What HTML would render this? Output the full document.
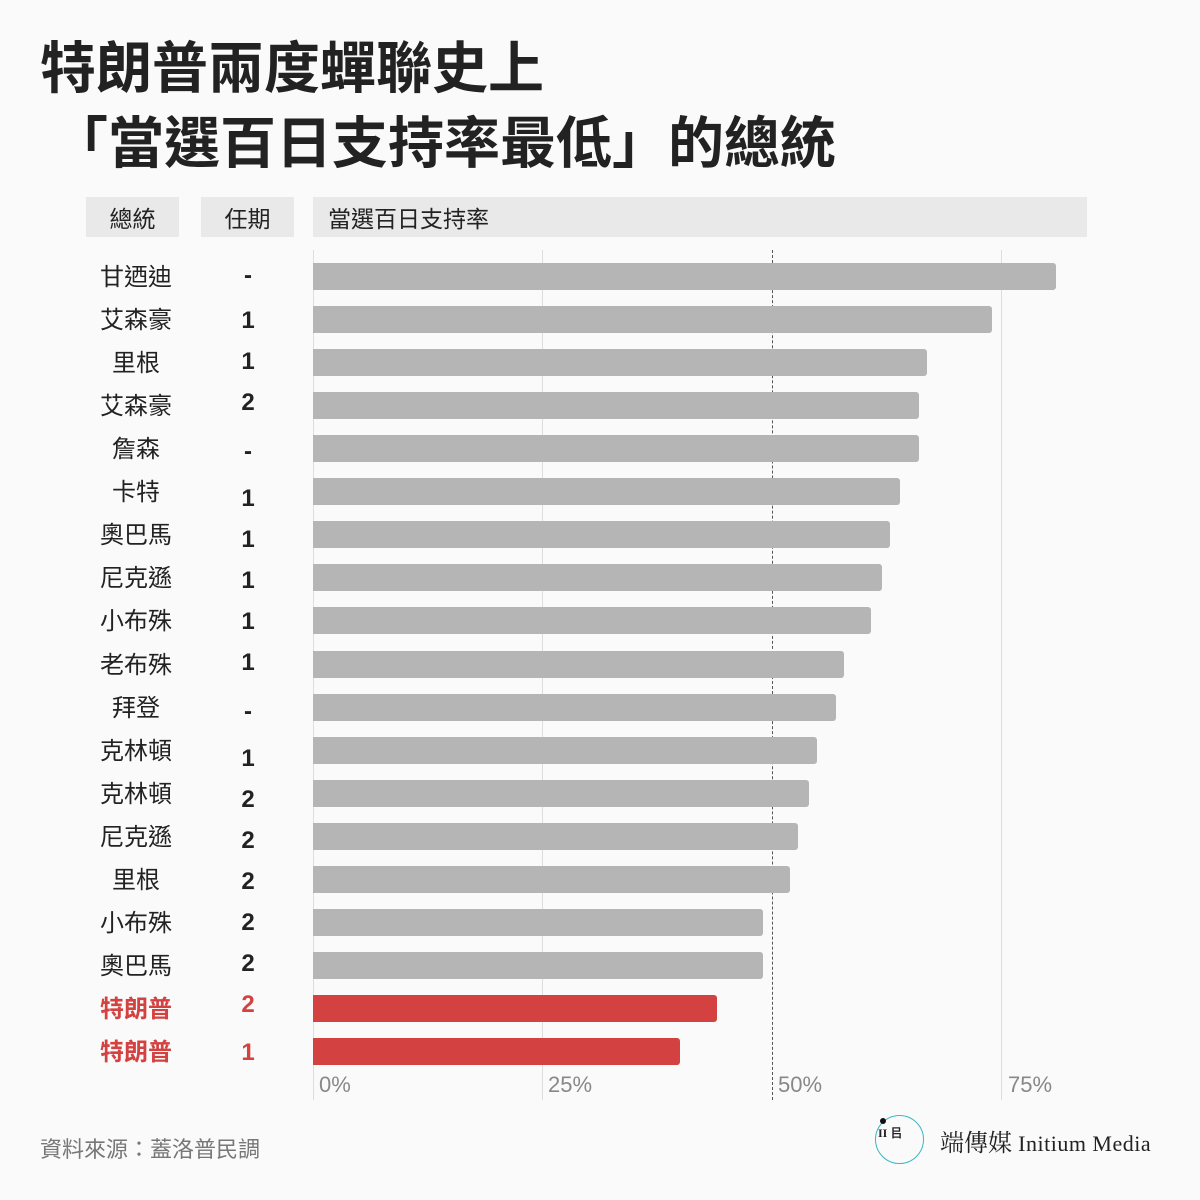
<!DOCTYPE html>
<html><head><meta charset="utf-8"><style>
body{margin:0;width:1200px;height:1200px;background:#fafafa;position:relative;overflow:hidden;font-family:"Liberation Sans","Noto Sans CJK TC",sans-serif;color:#222}
.a{position:absolute}
.t{left:40px;font-size:56px;font-weight:bold;color:#222;line-height:1;font-family:"Noto Sans CJK TC",sans-serif}
.h{top:197px;height:40px;background:#e9e9e9;font-size:23px;line-height:40px;font-family:"Noto Sans CJK TC",sans-serif}
.n{width:120px;left:76px;text-align:center;font-size:24px;font-family:"Noto Sans CJK TC",sans-serif;line-height:30px}
.p{width:40px;left:228px;text-align:center;font-size:24px;font-weight:bold;line-height:30px}
.b{left:313px;height:27px;background:#b5b5b5;border-radius:0 3px 3px 0}
.r{color:#d44141}
.rb{background:#d44141}
.g{top:250px;height:850px;width:0;border-left:1px solid #ddd}
.x{top:1072px;font-size:22px;color:#888}
</style></head><body>
<div class="a t" style="top:37px">特朗普兩度蟬聯史上</div>
<div class="a t" style="top:112px;left:52px">「當選百日支持率最低」的總統</div>
<div class="a h" style="left:86px;width:93px;text-align:center">總統</div>
<div class="a h" style="left:201px;width:93px;text-align:center">任期</div>
<div class="a h" style="left:313px;width:774px;padding-left:15px;box-sizing:border-box">當選百日支持率</div>
<div class="a g" style="left:313px"></div>
<div class="a g" style="left:542px"></div>
<div class="a g" style="left:772px;border-left:1px dashed #555"></div>
<div class="a g" style="left:1001px"></div>
<div class="a x" style="left:319px">0%</div>
<div class="a x" style="left:548px">25%</div>
<div class="a x" style="left:778px">50%</div>
<div class="a x" style="left:1008px">75%</div>
<div id="rows"></div>
<div class="a" style="left:40px;top:1132px;font-size:22px;color:#777;font-family:'Noto Sans CJK TC',sans-serif">資料來源：蓋洛普民調</div>
<div class="a" style="left:875px;top:1115px;width:47px;height:47px;border:1.5px solid #3bb6c8;border-radius:50%"></div>
<div class="a" style="left:880px;top:1118px;width:6px;height:6px;background:#111;border-radius:50%"></div>
<div class="a" style="left:878px;top:1124px;font-size:12px;font-weight:bold;font-family:'Liberation Serif',serif">II 㠯</div>
<div class="a" style="left:940px;top:1123px;font-size:24px;font-family:'Noto Serif CJK SC','Liberation Serif',serif;color:#222;white-space:nowrap">端傳媒 <span style="font-family:'Liberation Serif',serif;font-size:22px;letter-spacing:0.5px">Initium Media</span></div>
<script>
var d=[["甘迺迪","-",1056],["艾森豪","1",992],["里根","1",927],["艾森豪","2",919],["詹森","-",919],["卡特","1",900],["奧巴馬","1",890],["尼克遜","1",882],["小布殊","1",871],["老布殊","1",844],["拜登","-",836],["克林頓","1",817],["克林頓","2",809],["尼克遜","2",798],["里根","2",790],["小布殊","2",763],["奧巴馬","2",763],["特朗普","2",717],["特朗普","1",680]];
var c=[276,321,362,403,452,499,540,581,622,663,712,759,800,841,882,923,964,1005,1053];
var h="";
d.forEach(function(r,i){var y=263+i*43.06;var red=i>=17;
h+='<div class="a b'+(red?' rb':'')+'" style="top:'+y+'px;width:'+(r[2]-313)+'px"></div>';
h+='<div class="a n'+(red?' r':'')+'" style="top:'+(y-3)+'px'+(red?';font-weight:bold':'')+'">'+r[0]+'</div>';
h+='<div class="a p'+(red?' r':'')+'" style="top:'+(c[i]-15)+'px">'+r[1]+'</div>';});
document.getElementById("rows").innerHTML=h;
</script>
</body></html>
